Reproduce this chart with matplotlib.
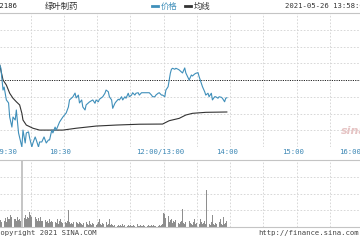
import matplotlib
matplotlib.use('Agg')
import matplotlib.pyplot as plt
from matplotlib.lines import Line2D
from matplotlib.transforms import blended_transform_factory

# trading minutes since 09:30, lunch removed (150 = 12:00/13:00)
price_t = [0, 2, 3, 5, 6, 8, 10, 11, 13, 14, 16, 17, 19, 22, 23, 25, 26, 28, 29, 31,
           32, 34, 35, 37, 38, 40, 42, 44, 46, 47, 49, 50, 52, 53, 56, 59, 62, 64, 65, 68,
           70, 71, 73, 74, 76, 77, 79, 80, 83, 86, 88, 89, 91, 92, 95, 97, 98, 100, 101, 103,
           104, 106, 107, 109, 110, 112, 113, 115, 116, 118, 119, 121, 122, 124, 125, 127, 128, 130, 137, 139,
           140, 142, 143, 145, 146, 148, 149, 151, 152, 154, 155, 156, 157, 158, 160, 161, 163, 164, 167, 169,
           170, 173, 175, 176, 178, 179, 181, 182, 184, 185, 187, 188, 190, 191, 193, 194, 196, 197, 199, 200,
           202, 203, 205, 206, 207]
# % change vs previous close
price_pct = [1.00, 0.90, 0.72, -0.60, -0.42, -1.19, -1.37, -2.21, -2.81, -2.21, -2.39, -1.79, -3.16, -4.00, -2.99, -3.76, -3.16, -3.10, -3.46, -4.00,
             -3.76, -3.40, -3.58, -4.00, -3.70, -3.70, -3.40, -3.76, -3.58, -3.58, -2.99, -3.16, -2.81, -2.99, -2.51, -2.21, -1.97, -1.61, -1.19, -1.01,
             -0.78, -1.07, -0.90, -1.37, -1.19, -1.61, -1.79, -1.49, -1.31, -1.19, -1.39, -1.19, -1.30, -1.15, -1.00, -0.79, -0.60, -0.70, -1.00, -1.19,
             -1.69, -1.39, -1.30, -1.15, -1.19, -1.00, -1.19, -1.00, -1.09, -0.79, -1.00, -0.90, -0.76, -0.90, -0.79, -0.76, -0.90, -0.76, -0.76, -0.90,
             -1.00, -1.00, -0.90, -0.79, -0.76, -0.90, -0.90, -1.00, -0.60, -0.40, 0.00, 0.40, 0.64, 0.70, 0.64, 0.70, 0.64, 0.60, 0.42, 0.72,
             0.42, 0.00, 0.30, 0.24, 0.36, 0.40, 0.44, 0.20, -0.20, -0.40, -0.70, -0.90, -0.79, -1.00, -0.79, -1.19, -1.00, -1.00, -1.09, -1.00,
             -1.03, -1.09, -1.30, -1.09, -1.06]

avg_t = [0, 2, 5, 8, 11, 14, 17, 20, 22, 23, 26, 32, 38, 59, 71, 89, 107, 128, 149, 155, 164, 170, 176, 188, 207]
avg_pct = [1.00, 0.90, 0.00, -0.30, -0.79, -1.09, -1.30, -1.49, -1.99, -2.39, -2.69, -2.88, -2.99, -2.99, -2.88, -2.75, -2.69, -2.64, -2.63, -2.43,
           -2.29, -2.09, -1.99, -1.93, -1.91]

# volume per minute (arbitrary units)
vol = [9, 7, 5, 7, 5, 8, 6, 9, 5, 10,
       8, 8, 12, 10, 24, 8, 8, 6, 10, 7,
       8, 6, 80, 18, 9, 12, 8, 10, 9, 15,
       12, 10, 20, 17, 10, 8, 6, 9, 6, 10,
       6, 6, 4, 7, 5, 6, 4, 8, 5, 6,
       5, 3, 5, 4, 8, 3, 6, 8, 5, 4,
       3, 5, 4, 6, 17, 5, 3, 4, 3, 5,
       12, 5, 4, 3, 5, 4, 3, 2, 4, 3,
       5, 3, 2, 6, 3, 2, 4, 3, 7, 2,
       3, 5, 8, 3, 2, 4, 3, 2, 5, 2,
       3, 8, 2, 3, 2, 1, 2, 3, 1, 2,
       1, 2, 1, 3, 1, 2, 1, 1, 2, 1,
       2, 1, 1, 2, 1, 1, 3, 1, 1, 2,
       1, 1, 2, 1, 1, 1, 2, 1, 1, 2,
       1, 2, 1, 1, 3, 1, 2, 1, 2, 3,
       14, 13, 9, 6, 11, 5, 7, 8, 4, 6,
       5, 7, 12, 4, 3, 5, 6, 18, 4, 3,
       5, 4, 3, 6, 4, 3, 2, 5, 8, 3,
       4, 2, 3, 8, 5, 3, 4, 6, 3, 37,
       4, 3, 2, 5, 12, 3, 2, 4, 3, 2,
       5, 8, 3, 2, 10, 3, 4, 6]

tick_t = [60, 150, 210, 270]
tick_lab = ['10:30', '12:00/13:00', '14:00', '15:00']

W, H = 360, 240
BLUE = '#3f8fba'
GRID = '#d2d2d2'
LBL = '#3a86b4'
VMAX = 67

def fx(x):
    return x / W

def fy(y):
    return 1 - y / H

fig = plt.figure(figsize=(3.6, 2.4), dpi=100)
fig.patch.set_facecolor('white')

xlim = (2.26, 327.2)

# price panel
ax = fig.add_axes([0, fy(147), 1, fy(13) - fy(147)])
ax.set_xlim(xlim)
ax.set_ylim(-4, 4)
for t in range(30, 331, 30):
    ax.axvline(t, color=GRID, lw=0.6, ls=(0, (2, 2)), zorder=0)
for v in [-3, -2, -1, 1, 2, 3]:
    ax.axhline(v, color=GRID, lw=0.6, ls=(0, (2, 2)), zorder=0)
ax.axhline(0, color='#222222', lw=0.7, ls=(0, (1.2, 1.2)), zorder=1)
ax.plot(avg_t, avg_pct, color='#333333', lw=0.8, zorder=2)
ax.plot(price_t, price_pct, color=BLUE, lw=0.8, zorder=3)
ax.set_xticks([])
ax.set_yticks([])
for s in ['left', 'right', 'bottom']:
    ax.spines[s].set_visible(False)
ax.spines['top'].set_color('#c4c4c4')
ax.spines['top'].set_linewidth(0.8)
ax.text(0.948, 0.12, 'sina', transform=ax.transAxes, fontsize=8, fontweight='bold',
        style='italic', color='#e6c4c4', ha='left', va='center')

# volume panel
axv = fig.add_axes([0, fy(227), 1, fy(160) - fy(227)])
axv.set_xlim(xlim)
axv.set_ylim(0, VMAX)
for t in range(30, 331, 30):
    axv.axvline(t, color=GRID, lw=0.6, ls=(0, (2, 2)), zorder=0)
for v in [VMAX / 4, VMAX / 2, VMAX * 3 / 4]:
    axv.axhline(v, color=GRID, lw=0.6, ls=(0, (2, 2)), zorder=0)
bar_col = ['#c6c6c6' if v > VMAX else '#8e8e8e' for v in vol]
bar_w = [2.0 if v > VMAX else 0.8 for v in vol]
axv.bar(range(len(vol)), vol, width=bar_w, color=bar_col, zorder=2)
axv.set_xticks([])
axv.set_yticks([])
for s in ['left', 'right']:
    axv.spines[s].set_visible(False)
axv.spines['top'].set_color('#c4c4c4')
axv.spines['bottom'].set_color('#c4c4c4')
axv.spines['top'].set_linewidth(0.8)
axv.spines['bottom'].set_linewidth(0.8)

# time labels
mono = 'DejaVu Sans Mono'
tr = blended_transform_factory(ax.transData, fig.transFigure)
for t, lab in zip(tick_t, tick_lab):
    fig.text(t - 3.2, fy(152), lab, transform=tr, ha='center', va='center',
             fontsize=5.2, family=mono, color=LBL)
fig.text(fx(-4), fy(152), '09:30', ha='left', va='center', fontsize=5.2, family=mono, color=LBL)
fig.text(fx(350), fy(152), '16:00', ha='center', va='center', fontsize=5.2, family=mono, color=LBL)

# header
cjk = ['Noto Sans CJK SC', 'DejaVu Sans']
fig.text(fx(-5), fy(6), '02186', ha='left', va='center', fontsize=5.2, family=mono, color='#222222')
fig.text(fx(45), fy(6), '绿叶制药', ha='left', va='center', fontsize=6, family=cjk, color='#333333')
fig.add_artist(Line2D([fx(152), fx(158)], [fy(6), fy(6)], color=BLUE, lw=2))
fig.text(fx(161), fy(6), '价格', ha='left', va='center', fontsize=6, family=cjk, color=BLUE)
fig.add_artist(Line2D([fx(185), fx(191)], [fy(6), fy(6)], color='#333333', lw=2))
fig.text(fx(194), fy(6), '均线', ha='left', va='center', fontsize=6, family=cjk, color='#333333')
fig.text(fx(285), fy(6), '2021-05-26 13:58:00', ha='left', va='center', fontsize=5.2, family=mono, color='#333333')

# footer
fig.text(fx(-4), fy(233), 'Copyright 2021 SINA.COM', ha='left', va='center', fontsize=5.2, family=mono, color='#444444')
fig.text(fx(258), fy(233), 'http://finance.sina.com.cn', ha='left', va='center', fontsize=5.2, family=mono, color='#444444')

fig.savefig('out.png', dpi=100)
